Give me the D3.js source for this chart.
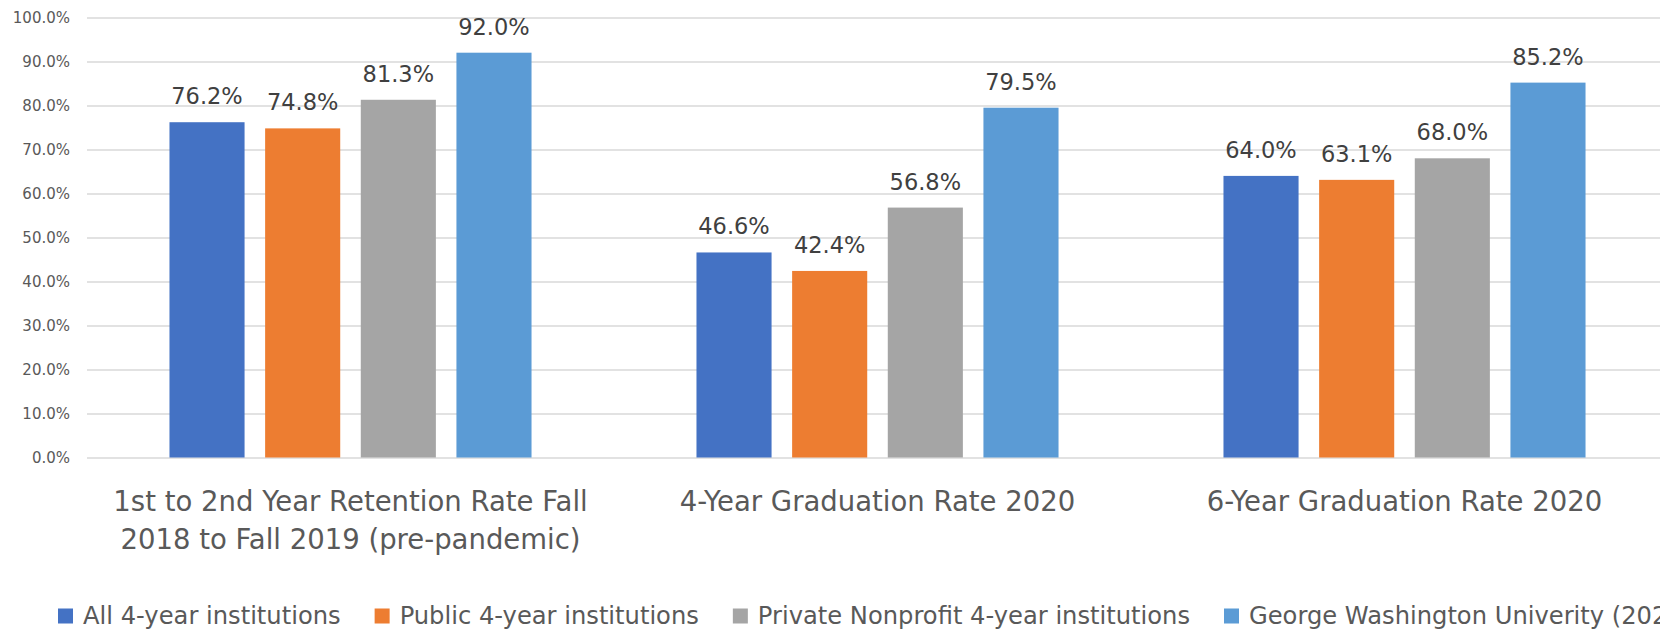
<!DOCTYPE html>
<html>
<head>
<meta charset="utf-8">
<script src="https://cdn.jsdelivr.net/npm/d3@7"></script>
<style>
  html, body { margin: 0; padding: 0; background: #fff; overflow: hidden; }
  svg { display: block; font-family: "DejaVu Sans", sans-serif; }
</style>
</head>
<body>
<div class="chart"></div>
<script>
// chart data
const CATEGORIES = ["retention", "grad4", "grad6"];
const CATEGORY_LINES = [
  ["1st to 2nd Year Retention Rate Fall", "2018 to Fall 2019 (pre-pandemic)"],
  ["4-Year Graduation Rate 2020"],
  ["6-Year Graduation Rate 2020"],
];
const SERIES = [
  "All 4-year institutions",
  "Public 4-year institutions",
  "Private Nonprofit 4-year institutions",
  "George Washington Univerity (2020)",
];
const ALL_4YR = [0.762, 0.466, 0.64];
const PUBLIC_4YR = [0.748, 0.424, 0.631];
const PRIVATE_4YR = [0.813, 0.568, 0.68];
const GWU = [0.92, 0.795, 0.852];
const Y_TICKS = [0, 0.1, 0.2, 0.3, 0.4, 0.5, 0.6, 0.7, 0.8, 0.9, 1.0];

const COLORS = ["#4472C4", "#ED7D31", "#A5A5A5", "#5B9BD5"];
const TEXT_COLOR = "#595959";
const LABEL_COLOR = "#404040";
const GRID_COLOR = "#d9d9d9";

const WIDTH = 1660;
const HEIGHT = 629;
const PLOT = { left: 87, right: 1668, top: 17.5, bottom: 457.5 };

const seriesValues = [ALL_4YR, PUBLIC_4YR, PRIVATE_4YR, GWU];

// one row per bar
const bars = [];
CATEGORIES.forEach((c, ci) => {
  SERIES.forEach((s, si) => {
    bars.push({ category: c, series: s, value: seriesValues[si][ci] });
  });
});

const svg = d3.select(".chart")
  .append("svg")
  .attr("width", WIDTH)
  .attr("height", HEIGHT);

const xScale = d3.scaleBand()
  .domain(CATEGORIES)
  .range([PLOT.left, PLOT.right])
  .paddingInner(0.313)
  .paddingOuter(0.1565);

const xInner = d3.scaleBand()
  .domain(SERIES)
  .range([0, xScale.bandwidth()])
  .paddingInner(0.215);

const yScale = d3.scaleLinear()
  .domain([0, 1])
  .range([PLOT.bottom, PLOT.top]);

const colorScale = d3.scaleOrdinal().domain(SERIES).range(COLORS);

// gridlines + y tick labels
const yAxis = svg.append("g")
  .attr("class", "y-axis")
  .attr("transform", `translate(${PLOT.left}, 0)`)
  .call(
    d3.axisLeft(yScale)
      .tickValues(Y_TICKS)
      .tickFormat(d3.format(".1%"))
      .tickSize(-(PLOT.right - PLOT.left))
      .tickPadding(17)
  );
yAxis.select(".domain").remove();
yAxis.selectAll(".tick line")
  .attr("stroke", GRID_COLOR)
  .attr("stroke-width", 1.5);
yAxis.selectAll(".tick text")
  .attr("fill", TEXT_COLOR)
  .attr("font-size", 15)
  .attr("font-family", "DejaVu Sans, sans-serif");

// bars
const groups = svg.append("g")
  .attr("class", "bars")
  .selectAll("g")
  .data(bars)
  .join("g")
  .attr("transform", d => `translate(${xScale(d.category) + xInner(d.series)}, 0)`);

groups.append("rect")
  .attr("x", 0)
  .attr("y", d => yScale(d.value))
  .attr("width", xInner.bandwidth())
  .attr("height", d => yScale(0) - yScale(d.value))
  .attr("fill", d => colorScale(d.series));

groups.append("text")
  .attr("x", xInner.bandwidth() / 2)
  .attr("y", d => yScale(d.value) - 18)
  .attr("text-anchor", "middle")
  .attr("font-size", 22.5)
  .attr("fill", LABEL_COLOR)
  .text(d => d3.format(".1%")(d.value));

// category labels under the plot
const catLabels = svg.append("g")
  .attr("class", "x-labels")
  .selectAll("text")
  .data(CATEGORIES)
  .join("text")
  .attr("x", d => xScale(d) + xScale.bandwidth() / 2)
  .attr("y", 511)
  .attr("text-anchor", "middle")
  .attr("font-size", 27.5)
  .attr("fill", TEXT_COLOR);

catLabels.selectAll("tspan")
  .data((d, i) => CATEGORY_LINES[i])
  .join("tspan")
  .attr("x", function () { return d3.select(this.parentNode).attr("x"); })
  .attr("dy", (d, i) => (i === 0 ? 0 : 38))
  .text(d => d);

// legend, laid out from measured text widths
const legend = svg.append("g").attr("class", "legend");
let legendX = 58;
const SWATCH = 15;
SERIES.forEach(s => {
  const item = legend.append("g").attr("transform", `translate(${legendX}, 0)`);
  item.append("rect")
    .attr("x", 0)
    .attr("y", 608.5)
    .attr("width", SWATCH)
    .attr("height", SWATCH)
    .attr("fill", colorScale(s));
  const label = item.append("text")
    .attr("x", SWATCH + 10)
    .attr("y", 624)
    .attr("font-size", 24.2)
    .attr("fill", TEXT_COLOR)
    .text(s);
  legendX += SWATCH + 10 + label.node().getComputedTextLength() + 34;
});
</script>
</body>
</html>
